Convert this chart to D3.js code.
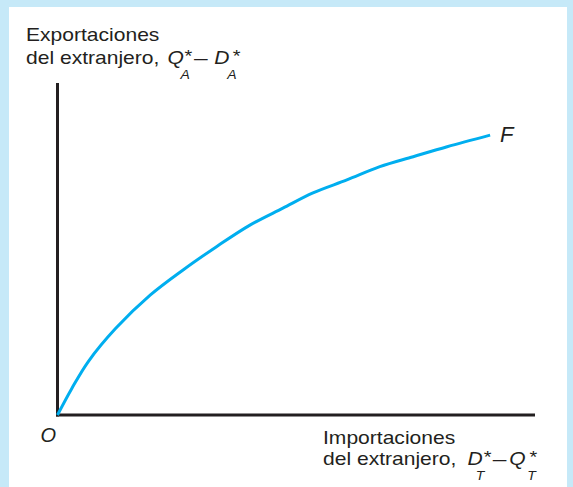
<!DOCTYPE html>
<html>
<head>
<meta charset="utf-8">
<script src="https://cdn.jsdelivr.net/npm/d3@7"></script>
<style>
  body { margin: 0; background: #c6e9f8; }
  svg { display: block; }
  text { font-family: "Liberation Sans", Arial, sans-serif; fill: #231f20; }
</style>
</head>
<body>
<div id="chart"></div>
<script>
// Offer curve F of the foreign country (arbitrary units)
const curveX = [0, 0.30, 0.645, 1.22, 1.94, 2.63, 3.33, 4.03, 4.72, 5.35, 6.06, 6.75, 7.45, 8.16, 9.06];
const curveY = [0, 0.80, 1.61, 2.61, 3.61, 4.37, 5.07, 5.72, 6.23, 6.69, 7.08, 7.48, 7.78, 8.08, 8.43];
const curveLabel = "F";
const originLabel = "O";
const yLabel = ["Exportaciones", "del extranjero,"];
const xLabel = ["Importaciones", "del extranjero,"];
// formula pieces: [letter, subscript]
const yFormula = [["Q", "A"], ["D", "A"]];
const xFormula = [["D", "T"], ["Q", "T"]];

const width = 573;
const height = 487;
const stretch = 1.17; // the source type is a bit wider than Liberation Sans

const svg = d3.select("#chart")
  .append("svg")
  .attr("width", width)
  .attr("height", height);

// white panel inside the blue frame
svg.append("rect")
  .attr("x", 9)
  .attr("y", 7)
  .attr("width", 558)
  .attr("height", height - 7)
  .attr("fill", "#ffffff");

// scales
const x = d3.scaleLinear().domain([0, 10]).range([57.5, 535]);
const y = d3.scaleLinear().domain([0, 10]).range([415, 83]);

// axes (plain lines, no ticks)
svg.append("line")
  .attr("x1", x(0)).attr("x2", x(0))
  .attr("y1", y(0) + 1.5).attr("y2", y(10))
  .attr("stroke", "#231f20").attr("stroke-width", 3);

svg.append("line")
  .attr("x1", x(0) - 1.5).attr("x2", x(10))
  .attr("y1", y(0)).attr("y2", y(0))
  .attr("stroke", "#231f20").attr("stroke-width", 3);

// offer curve
const points = curveX.map((d, i) => [d, curveY[i]]);
const line = d3.line()
  .x(d => x(d[0]))
  .y(d => y(d[1]))
  .curve(d3.curveCatmullRom);

svg.append("path")
  .datum(points)
  .attr("d", line)
  .attr("fill", "none")
  .attr("stroke", "#00aeef")
  .attr("stroke-width", 3);

// curve label
const last = points[points.length - 1];
svg.append("text")
  .attr("x", x(last[0]) + 10)
  .attr("y", y(last[1]) + 7)
  .attr("font-size", 22)
  .attr("font-style", "italic")
  .text(curveLabel);

// origin label
svg.append("text")
  .attr("x", x(0) - 17)
  .attr("y", y(0) + 27)
  .attr("font-size", 20)
  .attr("font-style", "italic")
  .text(originLabel);

// two-line label with a "X*_a – Y*_b" formula; positions are in local (unstretched) units
// pos: [[letter x, star x, sub x], [letter x, star x, sub x], dash x]
function axisLabel(ox, oy, gap, lines, formula, pos) {
  const g = svg.append("g")
    .attr("transform", `translate(${ox},${oy}) scale(${stretch},1)`);

  g.append("text").attr("font-size", 18).text(lines[0]);

  const t = g.append("text").attr("y", gap).attr("font-size", 18);
  t.append("tspan").text(lines[1]);

  formula.forEach((f, i) => {
    const p = pos[i];
    t.append("tspan").attr("x", p[0]).attr("y", gap)
      .attr("font-style", "italic").text(f[0]);
    t.append("tspan").attr("x", p[1]).attr("y", gap - 2.3)
      .attr("font-size", 17).text("*");
    t.append("tspan").attr("x", p[2]).attr("y", gap + 14.7)
      .attr("font-size", 12).attr("font-style", "italic").text(f[1]);
  });
  t.append("tspan").attr("x", pos[2]).attr("y", gap + 1)
    .attr("font-size", 21).text("\u2013");
}

// y axis label
axisLabel(26, 41, 23.5, yLabel, yFormula, [[121, 135.5, 132], [161, 176.8, 172], 143.5]);

// x axis label
axisLabel(323, 444, 21, xLabel, xFormula, [[123.6, 137.5, 130.5], [159.2, 176.5, 174.6], 145]);
</script>
</body>
</html>
